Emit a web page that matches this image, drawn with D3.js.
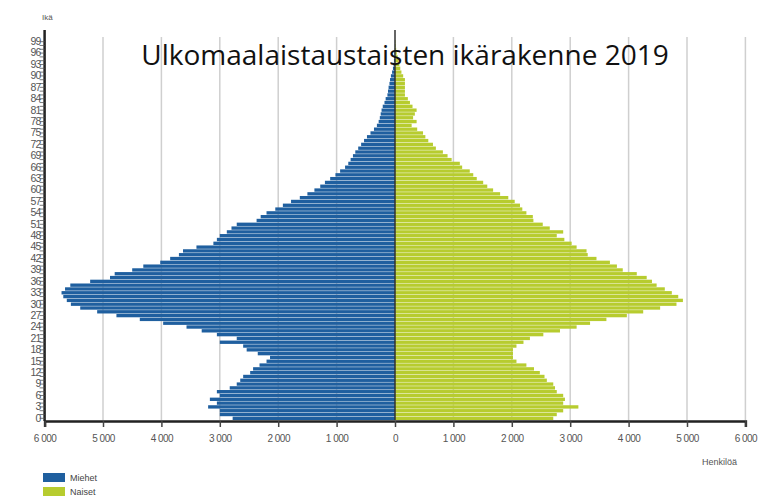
<!DOCTYPE html>
<html lang="fi">
<head>
  <meta charset="utf-8">
  <title>Ulkomaalaistaustaisten ikärakenne 2019</title>
  <script src="https://d3js.org/d3.v7.min.js"></script>
  <style>
    body { margin: 0; background: #fff; font-family: 'Liberation Sans', Arial, sans-serif; }
    .grid line { stroke: #cfcfcf; stroke-width: 1.5px; }
    .tick text { fill: #555; }
  </style>
</head>
<body>
<div id="chart"></div>
<script>
  // age groups 0..99
  var ages = d3.range(0, 100);

  // Miehet (men), persons per age
  var men = [2780, 3000, 3000, 3200, 3050, 3170, 3000, 3050, 2830, 2710,
             2650, 2600, 2480, 2430, 2320, 2200, 2140, 2350, 2540, 2600,
             3000, 2710, 3050, 3310, 3570, 3970, 4370, 4770, 5100, 5390,
             5550, 5620, 5680, 5710, 5650, 5560, 5220, 4880, 4800, 4500,
             4310, 4020, 3850, 3700, 3630, 3400, 3110, 3050, 3000, 2880,
             2800, 2710, 2370, 2300, 2200, 2050, 1920, 1780, 1630, 1500,
             1380, 1280, 1200, 1110, 1020, 940, 855, 800, 760, 720,
             680, 630, 580, 530, 480, 420, 360, 310, 280, 260,
             245, 230, 210, 180, 160, 130, 120, 110, 95, 85,
             70, 50, 35, 25, 18, 12, 8, 5, 3, 2];

  // Naiset (women)
  var women = [2710, 2770, 2880, 3140, 2880, 2910, 2880, 2770, 2740, 2710,
               2600, 2560, 2480, 2380, 2250, 2080, 2020, 2020, 2020, 2080,
               2200, 2310, 2540, 2825, 3110, 3340, 3620, 3970, 4250, 4540,
               4820, 4930, 4850, 4740, 4620, 4480, 4400, 4310, 4140, 3900,
               3800, 3680, 3450, 3300, 3280, 3110, 3025, 2900, 2770, 2880,
               2650, 2530, 2370, 2360, 2250, 2180, 2140, 2050, 1940, 1800,
               1680, 1580, 1510, 1400, 1340, 1280, 1150, 1110, 970, 900,
               820, 700, 650, 570, 520, 480, 380, 285, 370, 310,
               340, 370, 300, 256, 220, 170, 170, 170, 170, 170,
               140, 110, 90, 75, 60, 45, 30, 20, 12, 8];

  var xTicks = [-6000, -5000, -4000, -3000, -2000, -1000, 0, 1000, 2000, 3000, 4000, 5000, 6000];
  var yTickAges = d3.range(0, 100, 3);

  var width = 761, height = 498;
  var plotLeft = 44.6, plotRight = 745.4, plotTop = 40, plotBottom = 420;

  var svg = d3.select("#chart").append("svg")
      .attr("width", width)
      .attr("height", height);

  var x = d3.scaleLinear().domain([-6000, 6000]).range([plotLeft, plotRight]);
  var y = d3.scaleBand().domain(ages).range([plotBottom, plotTop]).paddingInner(0.12);

  // vertical grid lines
  svg.append("g").attr("class", "grid")
      .selectAll("line")
      .data(xTicks.filter(d => d !== 0 && d !== -6000))
      .enter().append("line")
      .attr("x1", d => x(d)).attr("x2", d => x(d))
      .attr("y1", 37).attr("y2", plotBottom);

  var fmt = d => d3.format(",")(Math.abs(d)).replace(",", " ");

  // men bars
  svg.append("g").selectAll("rect")
      .data(ages)
      .enter().append("rect")
      .attr("x", d => x(-men[d]))
      .attr("y", d => y(d))
      .attr("width", d => x(0) - x(-men[d]))
      .attr("height", y.bandwidth())
      .attr("fill", "#1f5f9f");

  // women bars
  svg.append("g").selectAll("rect")
      .data(ages)
      .enter().append("rect")
      .attr("x", x(0))
      .attr("y", d => y(d))
      .attr("width", d => x(women[d]) - x(0))
      .attr("height", y.bandwidth())
      .attr("fill", "#b7cc2f");

  // centre line
  svg.append("line")
      .attr("x1", x(0)).attr("x2", x(0))
      .attr("y1", 30).attr("y2", plotBottom)
      .attr("stroke", "#333").attr("stroke-width", 1.5);

  // x axis
  var xAxis = svg.append("g")
      .attr("transform", "translate(0," + (plotBottom + 1) + ")")
      .call(d3.axisBottom(x).tickValues(xTicks).tickFormat(fmt).tickSize(6).tickPadding(8));
  xAxis.select(".domain").attr("stroke", "#222").attr("stroke-width", 2.5);
  xAxis.selectAll(".tick line").attr("stroke", "#444").attr("stroke-width", 1.5);
  xAxis.selectAll(".tick text").style("font-size", "10px").attr("letter-spacing", "-0.5");

  // y axis
  var yAxis = svg.append("g")
      .attr("transform", "translate(" + plotLeft + ",0)")
      .call(d3.axisLeft(y).tickValues(ages).tickSize(5)
          .tickFormat(d => yTickAges.indexOf(d) >= 0 ? d : ""));
  yAxis.select(".domain").attr("stroke", "#222").attr("stroke-width", 2.5)
      .attr("d", "M0,30V" + (plotBottom + 1));
  yAxis.selectAll(".tick line").attr("stroke", "#555").attr("stroke-width", 0.8);
  yAxis.selectAll(".tick text").style("font-size", "10.5px").attr("x", -4)
      .attr("letter-spacing", "-0.8").attr("fill", "#555");

  svg.append("text").attr("x", 42).attr("y", 20)
      .style("font-size", "8px").attr("fill", "#555").text("Ikä");

  svg.append("text").attr("x", 737).attr("y", 465).attr("text-anchor", "end")
      .style("font-size", "9px").attr("fill", "#555").text("Henkilöä");

  // title
  svg.append("text").attr("x", 405).attr("y", 65).attr("text-anchor", "middle")
      .style("font-family", "'Open Sans', sans-serif").style("font-size", "28px")
      .attr("fill", "#111").text("Ulkomaalaistaustaisten ikärakenne 2019");

  // legend
  var legend = [{name: "Miehet", color: "#1f5f9f"}, {name: "Naiset", color: "#b7cc2f"}];
  var lg = svg.append("g").selectAll("g").data(legend).enter().append("g")
      .attr("transform", (d, i) => "translate(43," + (473 + i * 14) + ")");
  lg.append("rect").attr("width", 22).attr("height", 9).attr("fill", d => d.color);
  lg.append("text").attr("x", 27).attr("y", 8).style("font-size", "9px")
      .attr("fill", "#444").text(d => d.name);
</script>
</body>
</html>
